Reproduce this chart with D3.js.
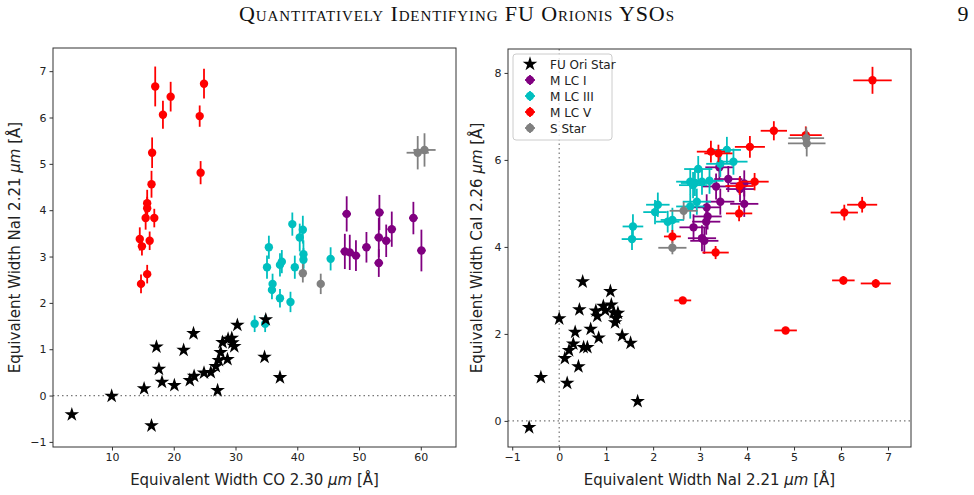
<!DOCTYPE html>
<html>
<head>
<meta charset="utf-8">
<script src="https://cdn.jsdelivr.net/npm/d3@7"></script>
<style>
	body { margin: 0; background: #fff; }
	.tick text { font-family: 'DejaVu Sans', sans-serif; font-size: 11px; fill: #222; }
	.axisLabel { font-family: 'DejaVu Sans', sans-serif; font-size: 15px; fill: #222; }
	.legendText { font-family: 'DejaVu Sans', sans-serif; font-size: 12px; fill: #222; }
</style>
</head>
<body>
<div id="chart"><svg width="974" height="495"></svg></div>
<script>
/* DATA: left panel, EW CO 2.30 (x) vs EW NaI 2.21 (y) */
const leftFuOri = [
	[3.5, -0.41], [9.95, -0.01], [15.2, 0.15], [16.4, -0.65], [17.2, 1.05], [17.6, 0.57],
	[18.1, 0.29], [20.1, 0.22], [21.6, 0.98], [22.6, 0.33], [23.2, 1.34], [23.3, 0.42],
	[24.9, 0.49], [26.0, 0.5], [26.8, 0.63], [27.1, 0.11], [27.3, 0.76], [27.6, 0.93],
	[27.9, 1.15], [28.7, 0.78], [28.8, 1.22], [29.4, 1.24], [29.5, 1.14], [29.8, 1.06],
	[30.3, 1.52], [34.9, 1.64], [34.7, 0.83], [37.2, 0.39]
];
// [x, y, xerr, yerr]
const leftMLCI = [
	[48.0, 3.92, 0.7, 0.38], [53.3, 3.95, 0.7, 0.38], [58.8, 3.83, 0.7, 0.35], [55.3, 3.59, 0.7, 0.38],
	[53.2, 3.41, 0.7, 0.42], [54.4, 3.34, 0.7, 0.35], [51.2, 3.2, 0.7, 0.33], [60.1, 3.13, 0.7, 0.45],
	[47.7, 3.11, 0.7, 0.38], [48.5, 3.09, 0.7, 0.38], [49.5, 3.02, 0.7, 0.33], [53.2, 2.86, 0.7, 0.3]
];
const leftMLCIII = [
	[39.2, 3.7, 0.5, 0.25], [40.9, 3.58, 0.5, 0.3], [40.4, 3.41, 0.5, 0.3], [35.4, 3.2, 0.4, 0.25],
	[41.0, 3.05, 0.4, 0.3], [37.5, 2.89, 0.4, 0.25], [37.2, 2.82, 0.4, 0.25], [41.0, 2.93, 0.4, 0.25],
	[45.4, 2.95, 0.4, 0.25], [35.1, 2.77, 0.4, 0.25], [39.6, 2.77, 0.4, 0.25], [36.0, 2.41, 0.4, 0.22],
	[35.9, 2.28, 0.4, 0.2], [37.2, 2.1, 0.4, 0.2], [38.9, 2.02, 0.4, 0.22], [33.1, 1.55, 0.4, 0.18],
	[34.8, 1.55, 0.4, 0.18]
];
const leftMLCV = [
	[17.0, 6.67, 0.2, 0.43], [24.9, 6.73, 0.2, 0.32], [19.5, 6.45, 0.2, 0.32], [18.25, 6.06, 0.2, 0.3],
	[24.2, 6.03, 0.2, 0.23], [16.5, 5.24, 0.2, 0.33], [24.35, 4.81, 0.2, 0.25], [16.4, 4.56, 0.2, 0.29],
	[15.7, 4.15, 0.2, 0.29], [15.7, 4.04, 0.2, 0.25], [15.45, 3.83, 0.2, 0.25], [16.85, 3.83, 0.2, 0.2],
	[14.5, 3.38, 0.2, 0.25], [16.1, 3.34, 0.2, 0.2], [14.85, 3.22, 0.2, 0.2], [15.7, 2.62, 0.2, 0.2],
	[14.7, 2.41, 0.2, 0.2]
];
const leftSStar = [
	[40.9, 2.64, 0.5, 0.2], [43.8, 2.41, 0.5, 0.22], [59.5, 5.24, 1.8, 0.36], [60.6, 5.3, 1.8, 0.36]
];

/* DATA: right panel, EW NaI 2.21 (x) vs EW CaI 2.26 (y) */
const rightFuOri = [
	[-0.64, -0.15], [-0.39, 1.0], [0.0, 2.35], [0.5, 3.2], [0.43, 2.56], [0.17, 0.87], [0.12, 1.44],
	[0.21, 1.62], [0.3, 1.77], [0.34, 2.04], [0.41, 1.25], [0.52, 1.69], [0.6, 1.69], [0.67, 2.11],
	[0.78, 2.53], [0.81, 2.41], [0.84, 1.91], [0.94, 2.64], [0.98, 2.54], [1.09, 2.98], [1.11, 2.67],
	[1.16, 2.49], [1.25, 2.48], [1.21, 2.36], [1.19, 2.26], [1.34, 1.96], [1.52, 1.79], [1.67, 0.45]
];
const rightMLCI = [
	[3.41, 5.83, 0.3, 0.3], [3.6, 5.56, 0.3, 0.3], [3.94, 5.46, 0.3, 0.3], [3.34, 5.39, 0.3, 0.3],
	[3.85, 5.33, 0.3, 0.3], [3.43, 5.04, 0.3, 0.3], [3.94, 4.99, 0.3, 0.3], [3.14, 4.91, 0.3, 0.3],
	[3.16, 4.7, 0.3, 0.3], [3.13, 4.58, 0.3, 0.3], [2.86, 4.45, 0.3, 0.3], [3.04, 4.2, 0.3, 0.3],
	[3.09, 4.14, 0.3, 0.3]
];
const rightMLCIII = [
	[1.57, 4.47, 0.22, 0.28], [1.55, 4.18, 0.22, 0.25], [2.1, 4.97, 0.25, 0.28], [2.04, 4.8, 0.25, 0.28],
	[2.31, 4.58, 0.25, 0.25], [2.41, 4.62, 0.25, 0.28], [2.79, 4.93, 0.3, 0.28], [2.93, 5.04, 0.3, 0.3],
	[2.96, 5.79, 0.3, 0.3], [2.79, 5.5, 0.3, 0.3], [2.89, 5.47, 0.3, 0.3], [3.04, 5.5, 0.3, 0.3],
	[3.2, 5.52, 0.3, 0.3], [3.43, 5.91, 0.3, 0.3], [3.57, 6.23, 0.3, 0.3], [3.71, 5.96, 0.3, 0.3],
	[2.85, 5.42, 0.3, 0.3]
];
const rightMLCV = [
	[6.67, 7.83, 0.41, 0.31], [4.57, 6.67, 0.28, 0.22], [5.25, 6.57, 0.34, 0.2], [4.06, 6.3, 0.32, 0.25],
	[3.23, 6.19, 0.3, 0.25], [3.39, 6.15, 0.3, 0.2], [4.16, 5.5, 0.3, 0.2], [3.84, 5.4, 0.3, 0.2],
	[3.83, 4.77, 0.28, 0.18], [6.07, 4.79, 0.29, 0.18], [6.45, 4.97, 0.32, 0.18], [3.33, 3.87, 0.28, 0.15],
	[6.05, 3.23, 0.24, 0.1], [6.74, 3.16, 0.32, 0.1], [4.82, 2.08, 0.24, 0.08], [2.63, 2.77, 0.18, 0.08],
	[2.41, 4.24, 0.18, 0.15]
];
const rightSStar = [
	[2.65, 4.83, 0.3, 0.2], [2.41, 3.98, 0.3, 0.15], [5.26, 6.5, 0.38, 0.25], [5.27, 6.38, 0.4, 0.3]
];

const leftXTicks = [10, 20, 30, 40, 50, 60];
const leftYTicks = [-1, 0, 1, 2, 3, 4, 5, 6, 7];
const rightXTicks = [-1, 0, 1, 2, 3, 4, 5, 6, 7];
const rightYTicks = [0, 2, 4, 6, 8];

const legendLabels = ['FU Ori Star', 'M LC I', 'M LC III', 'M LC V', 'S Star'];
const COLORS = { fu: '#000000', mI: '#800080', mIII: '#00bfbf', mV: '#ff0000', s: '#808080' };

/**********************
***** BASIC SETUP *****
**********************/
const svg = d3.select('#chart').select('svg');
const fmt = (d) => (d < 0 ? '\u2212' + Math.abs(d) : String(d));
const starPath = d3.symbol().type(d3.symbolStar).size(66);

// page header
svg.append('text')
	.attr('x', 457).attr('y', 21)
	.attr('text-anchor', 'middle')
	.style('font-family', "'Liberation Serif', serif")
	.style('font-size', '22px')
	.style('letter-spacing', '0.9px')
	.style('font-variant', 'small-caps')
	.style('fill', '#111')
	.text('Quantitatively Identifying FU Orionis YSOs');
svg.append('text')
	.attr('x', 963).attr('y', 21)
	.attr('text-anchor', 'middle')
	.style('font-family', "'Liberation Serif', serif")
	.style('font-size', '22px')
	.style('fill', '#111')
	.text('9');

function drawPanel(cfg) {
	const xScale = d3.scaleLinear().domain(cfg.xDomain).range([cfg.x0, cfg.x1]);
	const yScale = d3.scaleLinear().domain(cfg.yDomain).range([cfg.y1, cfg.y0]);

	const g = svg.append('g');

	// clip region
	const clipId = 'clip' + cfg.id;
	svg.append('clipPath').attr('id', clipId)
		.append('rect')
		.attr('x', cfg.x0).attr('y', cfg.y0)
		.attr('width', cfg.x1 - cfg.x0).attr('height', cfg.y1 - cfg.y0);

	const plot = g.append('g').attr('clip-path', `url(#${clipId})`);

	// dotted zero lines
	plot.append('line')
		.attr('x1', cfg.x0).attr('x2', cfg.x1)
		.attr('y1', yScale(0)).attr('y2', yScale(0))
		.attr('stroke', '#777').attr('stroke-width', 1.2).attr('stroke-dasharray', '1.5,3');
	if (cfg.vZero) {
		plot.append('line')
			.attr('x1', xScale(0)).attr('x2', xScale(0))
			.attr('y1', cfg.y0).attr('y2', cfg.y1)
			.attr('stroke', '#777').attr('stroke-width', 1.2).attr('stroke-dasharray', '1.5,3');
	}

	// error bar series
	cfg.series.forEach(function(s) {
		const grp = plot.append('g');
		const pts = grp.selectAll('.pt').data(s.data).enter().append('g');
		pts.append('line')
			.attr('x1', (d) => xScale(d[0] - d[2])).attr('x2', (d) => xScale(d[0] + d[2]))
			.attr('y1', (d) => yScale(d[1])).attr('y2', (d) => yScale(d[1]))
			.attr('stroke', s.color).attr('stroke-width', 1.8);
		pts.append('line')
			.attr('x1', (d) => xScale(d[0])).attr('x2', (d) => xScale(d[0]))
			.attr('y1', (d) => yScale(d[1] - d[3])).attr('y2', (d) => yScale(d[1] + d[3]))
			.attr('stroke', s.color).attr('stroke-width', 1.8);
		pts.append('circle')
			.attr('cx', (d) => xScale(d[0])).attr('cy', (d) => yScale(d[1]))
			.attr('r', 4.2)
			.attr('fill', s.color);
	});

	// FU Ori stars
	plot.selectAll('.star').data(cfg.stars).enter().append('path')
		.attr('d', starPath)
		.attr('transform', (d) => `translate(${xScale(d[0])},${yScale(d[1])})`)
		.attr('fill', '#000');

	// axes
	g.append('g')
		.attr('transform', `translate(0,${cfg.y1})`)
		.call(d3.axisBottom(xScale).tickValues(cfg.xTicks).tickFormat(fmt).tickSize(3.5).tickPadding(3))
		.call((a) => a.select('.domain').remove())
		.call((a) => a.selectAll('.tick line').attr('stroke', '#333'));
	g.append('g')
		.attr('transform', `translate(${cfg.x0},0)`)
		.call(d3.axisLeft(yScale).tickValues(cfg.yTicks).tickFormat(fmt).tickSize(3.5).tickPadding(3))
		.call((a) => a.select('.domain').remove())
		.call((a) => a.selectAll('.tick line').attr('stroke', '#333'));

	// frame
	g.append('rect')
		.attr('x', cfg.x0).attr('y', cfg.y0)
		.attr('width', cfg.x1 - cfg.x0).attr('height', cfg.y1 - cfg.y0)
		.attr('fill', 'none').attr('stroke', '#333').attr('stroke-width', 1);

	// axis labels
	const xl = g.append('text').attr('class', 'axisLabel')
		.attr('x', (cfg.x0 + cfg.x1) / 2).attr('y', cfg.y1 + 38)
		.attr('text-anchor', 'middle');
	xl.append('tspan').text(cfg.xLabel + ' ');
	xl.append('tspan').style('font-style', 'italic').text('\u03bcm');
	xl.append('tspan').text(' [\u00c5]');

	const yl = g.append('text').attr('class', 'axisLabel')
		.attr('transform', `translate(${cfg.yLabelX},${(cfg.y0 + cfg.y1) / 2}) rotate(-90)`)
		.attr('text-anchor', 'middle');
	yl.append('tspan').text(cfg.yLabel + ' ');
	yl.append('tspan').style('font-style', 'italic').text('\u03bcm');
	yl.append('tspan').text(' [\u00c5]');

	return g;
}

drawPanel({
	id: 'L', x0: 53, x1: 456, y0: 48, y1: 447,
	xDomain: [0.45, 65.7], yDomain: [-1.11, 7.5],
	xTicks: leftXTicks, yTicks: leftYTicks, vZero: false,
	series: [
		{ data: leftMLCI, color: COLORS.mI },
		{ data: leftMLCIII, color: COLORS.mIII },
		{ data: leftMLCV, color: COLORS.mV },
		{ data: leftSStar, color: COLORS.s }
	],
	stars: leftFuOri,
	xLabel: 'Equivalent Width CO 2.30', yLabel: 'Equivalent Width NaI 2.21', yLabelX: 20
});

drawPanel({
	id: 'R', x0: 508, x1: 911, y0: 49, y1: 447,
	xDomain: [-1.09, 7.49], yDomain: [-0.6, 8.55],
	xTicks: rightXTicks, yTicks: rightYTicks, vZero: true,
	series: [
		{ data: rightMLCI, color: COLORS.mI },
		{ data: rightMLCIII, color: COLORS.mIII },
		{ data: rightMLCV, color: COLORS.mV },
		{ data: rightSStar, color: COLORS.s }
	],
	stars: rightFuOri,
	xLabel: 'Equivalent Width NaI 2.21', yLabel: 'Equivalent Width CaI 2.26', yLabelX: 482
});

/****************
***** LEGEND *****
*****************/
const legend = svg.append('g').attr('transform', 'translate(513,54)');
legend.append('rect')
	.attr('width', 99).attr('height', 86).attr('rx', 3)
	.attr('fill', 'rgba(255,255,255,0.8)').attr('stroke', '#ccc');
const legendColors = [COLORS.fu, COLORS.mI, COLORS.mIII, COLORS.mV, COLORS.s];
legendLabels.forEach(function(label, i) {
	const y = 10 + i * 16;
	const row = legend.append('g').attr('transform', `translate(17,${y})`);
	if (i === 0) {
		row.append('path').attr('d', starPath).attr('fill', '#000');
	} else {
		row.append('line').attr('x1', -5).attr('x2', 5).attr('stroke', legendColors[i]).attr('stroke-width', 1.8);
		row.append('line').attr('y1', -5).attr('y2', 5).attr('stroke', legendColors[i]).attr('stroke-width', 1.8);
		row.append('circle').attr('r', 4.2).attr('fill', legendColors[i]);
	}
	legend.append('text').attr('class', 'legendText')
		.attr('x', 37).attr('y', y + 4.5)
		.text(label);
});
</script>
</body>
</html>
